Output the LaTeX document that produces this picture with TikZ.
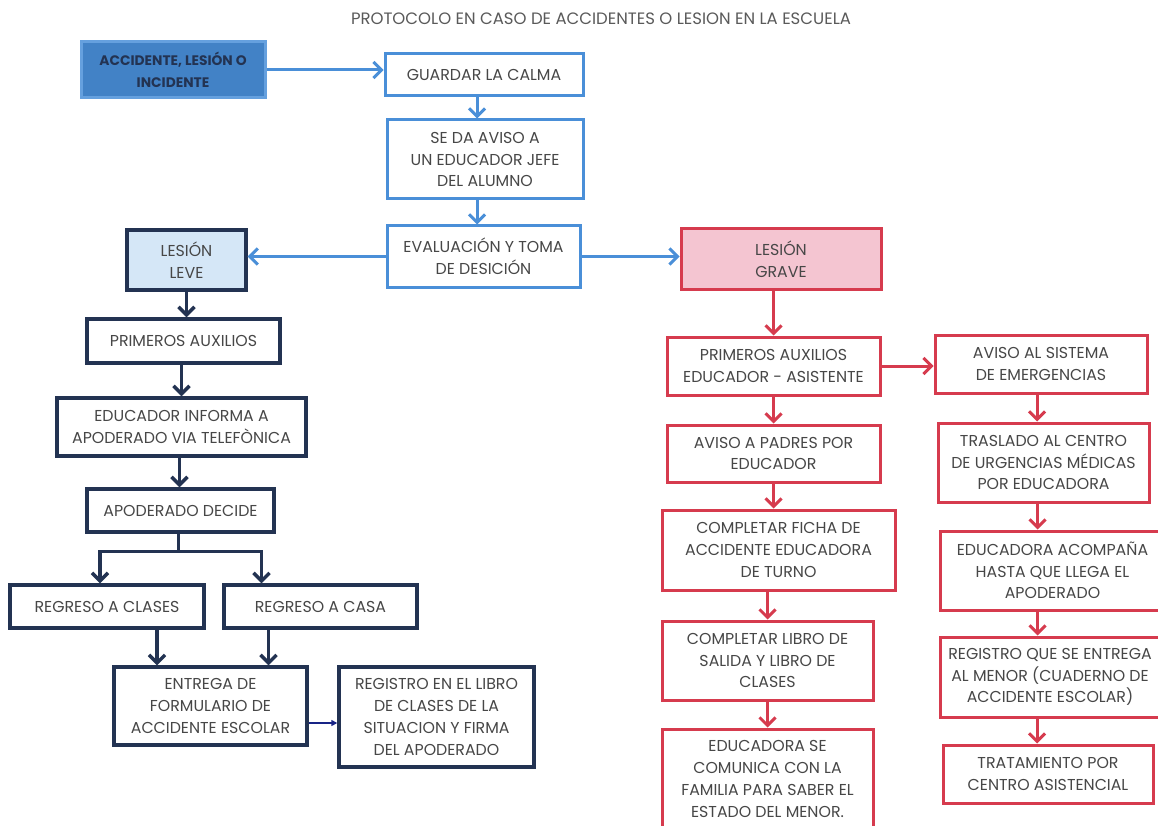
\documentclass[tikz,border=0pt]{standalone}
\usepackage{fontspec}
\setmainfont{Poppins}
\usetikzlibrary{arrows.meta}
\definecolor{azul}{HTML}{4A8FD8}
\definecolor{azulfondo}{HTML}{4282C6}
\definecolor{celeste}{HTML}{D5E7F7}
\definecolor{marino}{HTML}{233352}
\definecolor{rojo}{HTML}{D63B4E}
\definecolor{rosa}{HTML}{F4C5D1}
\definecolor{texto}{HTML}{474747}
\begin{document}
\begin{tikzpicture}[x=1pt, y=-1pt,
    caja/.style={draw, line width=3pt, fill=white, align=center, inner sep=0pt, text=texto, font=\fontsize{15.8}{21.7}\selectfont},
    cajaazul/.style={caja, draw=azul},
    cajamarino/.style={caja, draw=marino, line width=3.4pt},
    cajaroja/.style={caja, draw=rojo},
    flechaazul/.style={draw=azul, line width=3pt, -{Straight Barb[length=8pt,width=16pt]}},
    lineamarino/.style={draw=marino, line width=3.4pt},
    flechamarino/.style={lineamarino, -{Straight Barb[length=8pt,width=16pt]}},
    flecharoja/.style={draw=rojo, line width=3pt, -{Straight Barb[length=8pt,width=16pt]}}]
    \useasboundingbox[fill=white] (0,0) rectangle (1158,826);
    \node[text=texto!90, font=\fontsize{16.5}{18}\selectfont] (titulo) at (601,19) {PROTOCOLO EN CASO DE ACCIDENTES O LESION EN LA ESCUELA};

    \node[cajaazul, draw=azul!85!white, fill=azulfondo, text=marino, font=\fontsize{13.8}{21.5}\selectfont\bfseries, minimum width=184, minimum height=56] (acc) at (173,70) {ACCIDENTE, LESIÓN O\\INCIDENTE};
    \node[cajaazul, minimum width=198, minimum height=42] (calma) at (484,75) {GUARDAR LA CALMA};
    \node[cajaazul, minimum width=196, minimum height=79] (aviso) at (485,159.5) {SE DA AVISO A\\UN EDUCADOR JEFE\\DEL ALUMNO};
    \node[cajaazul, minimum width=193, minimum height=61] (evalua) at (483.5,256.5) {EVALUACIÓN Y TOMA\\DE DESICIÓN};
    \node[cajamarino, fill=celeste, minimum width=119, minimum height=60] (leve) at (186.5,260) {LESIÓN\\LEVE};
    \node[cajaroja, fill=rosa, minimum width=200, minimum height=60] (grave) at (781,259) {LESIÓN\\GRAVE};

    \node[cajamarino, minimum width=193, minimum height=44] (primL) at (183.5,341) {PRIMEROS AUXILIOS};
    \node[cajamarino, minimum width=249, minimum height=58] (informa) at (181.5,427) {EDUCADOR INFORMA A\\APODERADO VIA TELEFÒNICA};
    \node[cajamarino, minimum width=187, minimum height=43] (decide) at (180.5,510.5) {APODERADO DECIDE};
    \node[cajamarino, minimum width=194, minimum height=43] (clases) at (107,606.5) {REGRESO A CLASES};
    \node[cajamarino, minimum width=193, minimum height=43] (casa) at (320.5,606.5) {REGRESO A CASA};
    \node[cajamarino, minimum width=193, minimum height=78] (entrega) at (210.5,706) {ENTREGA DE\\FORMULARIO DE\\ACCIDENTE ESCOLAR};
    \node[cajamarino, minimum width=195, minimum height=100] (registro) at (436.5,717) {REGISTRO EN EL LIBRO\\DE CLASES DE LA\\SITUACION Y FIRMA\\DEL APODERADO};

    \node[cajaroja, minimum width=213, minimum height=58] (primG) at (773.5,366) {PRIMEROS AUXILIOS\\EDUCADOR - ASISTENTE};
    \node[cajaroja, minimum width=213, minimum height=57] (padres) at (773.5,453.5) {AVISO A PADRES POR\\EDUCADOR};
    \node[cajaroja, minimum width=233, minimum height=80] (ficha) at (778.5,550) {COMPLETAR FICHA DE\\ACCIDENTE EDUCADORA\\DE TURNO};
    \node[cajaroja, minimum width=211, minimum height=79] (libro) at (767.5,660.5) {COMPLETAR LIBRO DE\\SALIDA Y LIBRO DE\\CLASES};
    \node[cajaroja, minimum width=211, minimum height=100] (comunica) at (767.5,779) {EDUCADORA SE\\COMUNICA CON LA\\FAMILIA PARA SABER EL\\ESTADO DEL MENOR.};
    \node[cajaroja, minimum width=212, minimum height=58] (sistema) at (1041,364) {AVISO AL SISTEMA\\DE EMERGENCIAS};
    \node[cajaroja, minimum width=211, minimum height=79] (traslado) at (1043.5,462.5) {TRASLADO AL CENTRO\\DE URGENCIAS MÉDICAS\\POR EDUCADORA};
    \node[cajaroja, minimum width=225, minimum height=79] (acompana) at (1052.5,570.5) {EDUCADORA ACOMPAÑA\\HASTA QUE LLEGA EL\\APODERADO};
    \node[cajaroja, minimum width=220, minimum height=80] (entregaR) at (1050,677) {REGISTRO QUE SE ENTREGA\\AL MENOR (CUADERNO DE\\ACCIDENTE ESCOLAR)};
    \node[cajaroja, minimum width=210, minimum height=58] (tratamiento) at (1048,774) {TRATAMIENTO POR\\CENTRO ASISTENCIAL};

    \draw[flechaazul] (acc.east) -- (acc.east -| calma.west);
    \draw[flechaazul] ([xshift=-7pt]calma.south) -- ([xshift=-7pt]calma.south |- aviso.north);
    \draw[flechaazul] ([xshift=-8pt]aviso.south) -- ([xshift=-8pt]aviso.south |- evalua.north);
    \draw[flechaazul] (evalua.west) -- (evalua.west -| leve.east);
    \draw[flechaazul] (evalua.east) -- (evalua.east -| grave.west);

    \draw[flechamarino] (leve.south) -- (leve.south |- primL.north);
    \draw[flechamarino] ([xshift=-2pt]primL.south) -- ([xshift=-2pt]primL.south |- informa.north);
    \draw[flechamarino] ([xshift=-2pt]informa.south) -- ([xshift=-2pt]informa.south |- decide.north);
    \draw[lineamarino] ([xshift=-2pt]decide.south) -- ++(0,18) coordinate (bifurca);
    \draw[flechamarino] (bifurca) -| ([xshift=-7pt]clases.north);
    \draw[flechamarino] (bifurca) -| ([xshift=-59pt]casa.north);
    \draw[flechamarino] ([xshift=50pt]clases.south) -- ([xshift=50pt]clases.south |- entrega.north);
    \draw[flechamarino] ([xshift=-52pt]casa.south) -- ([xshift=-52pt]casa.south |- entrega.north);
    \draw[draw=marino!70!blue, line width=1.8pt, -{Triangle[length=6pt,width=6pt]}] ([yshift=-17pt]entrega.east) -- ([yshift=-17pt]entrega.east -| registro.west);

    \draw[flecharoja] (primG.north |- grave.south) -- (primG.north);
    \draw[flecharoja] (primG.south) -- (primG.south |- padres.north);
    \draw[flecharoja] (padres.south) -- (padres.south |- ficha.north);
    \draw[flecharoja] ([xshift=-11pt]ficha.south) -- ([xshift=-11pt]ficha.south |- libro.north);
    \draw[flecharoja] (libro.south) -- (libro.south |- comunica.north);
    \draw[flecharoja] (primG.east) -- (primG.east -| sistema.west);
    \draw[flecharoja] ([xshift=-4pt]sistema.south) -- ([xshift=-4pt]sistema.south |- traslado.north);
    \draw[flecharoja] ([xshift=-6pt]traslado.south) -- ([xshift=-6pt]traslado.south |- acompana.north);
    \draw[flecharoja] ([xshift=-15pt]acompana.south) -- ([xshift=-15pt]acompana.south |- entregaR.north);
    \draw[flecharoja] ([xshift=-13pt]entregaR.south) -- ([xshift=-13pt]entregaR.south |- tratamiento.north);
\end{tikzpicture}
\end{document}
